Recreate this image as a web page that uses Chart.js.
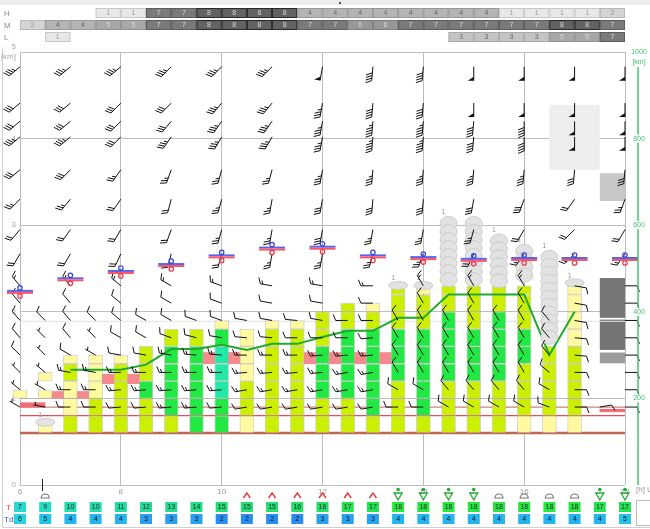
<!DOCTYPE html>
<html>
<head>
<meta charset="utf-8">
<script src="https://cdn.jsdelivr.net/npm/chart.js@4.4.1/dist/chart.umd.min.js"></script>
<style>
  body { margin: 0; background: #fff; }
  canvas { display: block; }
</style>
</head>
<body>
<canvas id="meteogram" width="650" height="529"></canvas>
<script>
// ---- data ----
const halfHours = [6, 6.5, 7, 7.5, 8, 8.5, 9, 9.5, 10, 10.5, 11, 11.5, 12, 12.5, 13, 13.5, 14, 14.5, 15, 15.5, 16, 16.5, 17, 17.5, 18];
const fullHours = [6, 7, 8, 9, 10, 11, 12, 13, 14, 15, 16, 17, 18];

// cloud cover (octas) per half hour slot starting at 6:00
const cloudH = [null, null, null, 1, 1, 7, 7, 8, 8, 8, 8, 4, 4, 4, 4, 4, 4, 4, 4, 1, 1, 1, 1, 2];
const cloudM = [2, 4, 4, 5, 5, 7, 7, 8, 8, 8, 8, 7, 7, 6, 6, 7, 7, 7, 7, 7, 7, 8, 8, 7];
const cloudL = [null, 1, null, null, null, null, null, null, null, null, null, null, null, null, null, null, null, 3, 3, 3, 3, 5, 5, 7];

// temperature / dew point per half hour
const tempT = [7, 9, 10, 10, 11, 12, 13, 14, 15, 15, 15, 16, 16, 17, 17, 18, 18, 18, 18, 18, 18, 18, 18, 17, 17];
const tempTd = [6, 5, 4, 4, 4, 3, 3, 3, 2, 2, 2, 2, 3, 3, 3, 4, 4, 4, 4, 4, 4, 4, 4, 4, 5];
const weather = ['', 'cu', '', '', '', '', '', '', '', 'ts', 'ts', 'ts', 'ts', 'ts', 'ts', 'sh', 'sh', 'sh', 'sh', 'cu', 'cu', 'cu', 'cu', 'sh', 'sh'];

// boundary layer columns: one letter per 0.1 km starting at 0.6 km
const barHours = [6, 6.5, 7, 7.5, 8, 8.5, 9, 9.5, 10, 10.5, 11, 11.5, 12, 12.5, 13, 13.5, 14, 14.5, 15, 15.5, 16, 16.5, 17];
const barCodes = [
  '....Y', 'Y...Y.Y', 'GGYYYYGGY', 'GGGGYYYYY', 'GGGGGGGGY', 'GGGGBBGGGG',
  'GGBBBBBBBBGG', 'BBBBBBBBBBGG', 'BBBBTTTTTTBBY', 'YYGGGGYYYYYY', 'GGGGGGGGGGGGY',
  'GGGGGGGGGGGGY', 'GGGGBBBBBBGGGG', 'GGGGBBBBBBBBGGG', 'GGBBBBBBBBBBGGY',
  'GGGGGGBBBBBBGGGGG', 'GGBBBBBBBBBBGGGGY', 'GGGGGGBBBBBBBBGGG', 'GGGGGGBBBBBBGGGGG',
  'GGGGGGBBBBBBBBGGG', 'YYGGGGGGBBBBGGGGG', 'YYGGGGGGGG', 'YYGGGGGGGGYYYYYYY'
];
const barBase = 0.6;

// inversion cells between the columns
const pinkHours = [6.75, 7.25, 7.75, 8.25, 9.75, 10.25, 11.75, 12.25, 12.75, 13.25];
const pinkLo = [1.0, 1.0, 1.17, 1.17, 1.4, 1.4, 1.4, 1.4, 1.4, 1.4];
const pinkHi = [1.08, 1.08, 1.28, 1.28, 1.53, 1.53, 1.53, 1.53, 1.53, 1.53];
const pinkWideHours = [6.25, 17.75];
const pinkWideLo = [0.9, 0.845];
const pinkWideHi = [0.95, 0.875];

// mixing height line
const mixHours = [7, 7.5, 8, 8.5, 9, 9.5, 10, 10.5, 11, 11.5, 12, 12.5, 13, 13.5, 14, 14.5, 15, 15.5, 16, 16.5, 17];
const mixKm = [1.33, 1.33, 1.33, 1.39, 1.57, 1.57, 1.62, 1.56, 1.63, 1.63, 1.71, 1.78, 1.78, 1.93, 1.93, 2.2, 2.2, 2.2, 2.2, 1.5, 2.0];

// horizontal reference levels
const levelKm = [0.6, 0.8, 0.9, 1.89];

// freezing level markers
const markerKm = [2.23, 2.375, 2.46, 2.54, 2.64, 2.73, 2.74, 2.64, 2.62, 2.6, 2.61, 2.61, 2.61];

// convective clouds on top of the columns
const cuHours = [6.5, 13.5, 14, 14.5, 15, 15.5, 16, 16.5, 17];
const cuBase = [0.69, 2.27, 2.27, 2.3, 2.3, 2.3, 2.3, 1.6, 2.3];
const cuTop = [0.74, 2.35, 2.35, 3.1, 3.1, 2.9, 2.78, 2.71, 2.35];

// cloud layer boxes on the right
const boxFrom = [16.5, 17.5, 17.5, 17.5, 17.5];
const boxTo = [17.5, 18, 18, 18, 18];
const boxLo = [3.64, 3.28, 1.93, 1.56, 1.405];
const boxHi = [4.39, 3.6, 2.39, 1.91, 1.53];

// upper winds: levels (km) x full hours
const upperLevels = [4.83, 4.41, 4.2, 4.02, 3.64, 3.3, 2.95, 2.67];
const upperDir = [
  [230, 230, 230, 225, 225, 225, 190, 185, 185, 180, 180, 180, 180],
  [230, 230, 225, 225, 220, 220, 190, 185, 185, 180, 180, 180, 180],
  [230, 230, 225, 220, 215, 215, 190, 185, 185, 185, 180, 180, 180],
  [230, 230, 225, 215, 210, 210, 190, 185, 185, 185, 180, 180, 180],
  [230, 225, 215, 200, 195, 195, 190, 185, 185, 185, 185, 185, 185],
  [225, 220, 215, 195, 195, 190, 190, 185, 185, 190, 200, 215, 200],
  [220, 215, 210, 200, 195, 190, 190, 190, 190, 195, 210, 225, 210],
  [210, 210, 205, 195, 195, 190, 190, 195, 200, 205, 215, 225, 215]
];
const upperSpd = [
  [35, 35, 35, 35, 35, 35, 50, 40, 40, 50, 50, 50, 50],
  [30, 30, 30, 30, 35, 35, 35, 40, 40, 50, 50, 50, 50],
  [30, 30, 30, 30, 35, 35, 35, 45, 45, 40, 40, 50, 50],
  [35, 35, 30, 35, 35, 35, 35, 45, 45, 40, 40, 50, 50],
  [30, 30, 25, 25, 25, 25, 35, 35, 35, 35, 35, 30, 30],
  [25, 25, 20, 20, 25, 25, 30, 30, 30, 30, 30, 20, 25],
  [20, 20, 20, 20, 25, 25, 30, 25, 25, 25, 20, 20, 20],
  [20, 20, 20, 20, 20, 25, 25, 25, 25, 20, 15, 15, 15]
];

// boundary layer winds: levels (km) x half hours, null = no barb
const lowLevels = [2.3, 2.1, 1.9, 1.7, 1.5, 1.3, 1.1, 0.9];
const lowDir = [
  [320, 320, 320, 315, 310, 300, 300, 290, 290, 280, 280, 280, 280, 270, 270, 330, 330, 330, 330, 330, 330, 320, 100, 90, 90],
  [320, 320, 320, 315, 310, 300, 300, 290, 290, 280, 280, 280, 280, 270, 270, 330, 330, 330, 330, 330, 330, 320, 100, 90, 90],
  [320, 315, 320, 315, 310, 300, 300, 290, 290, 280, 280, 275, 280, 270, 270, 330, 330, 330, 330, 330, 330, 320, 100, 90, 90],
  [320, 315, 320, 315, 300, 300, 290, 285, 280, 275, 275, 270, 270, 270, 265, 330, 330, 330, 330, 330, 330, 320, 95, 90, 90],
  [315, 315, 300, 300, 280, 280, 280, 275, 275, 270, 270, 270, 265, 265, 265, 330, 330, 330, 330, 330, 330, 320, 95, 90, 90],
  [315, 310, 280, 280, 270, 270, 270, 270, 270, 265, 265, 265, 265, 260, 260, 330, 330, 330, 330, 330, 330, 310, 90, 90, 90],
  [310, 300, 270, 270, 265, 265, 265, 265, 265, 260, 260, 260, 260, 260, 260, 300, 300, 320, 320, 320, 320, 300, 90, 90, 90],
  [300, 280, 270, 270, 265, 265, 265, 265, 265, 260, 260, 260, 260, 260, 260, 270, 270, 300, 300, 300, 300, 290, 90, 80, 90]
];
const lowSpd = [
  [15, null, 15, null, 15, null, 15, null, 15, null, 15, null, 15, null, 15, null, 15, null, 15, null, 15, null, 10, null, 10],
  [10, null, 10, null, 10, null, 10, null, 10, null, 10, null, 10, null, 10, null, 10, null, 10, null, 10, null, 10, null, 10],
  [10, 10, 10, 10, 10, 10, 10, 10, 10, 10, 10, 10, 10, 10, 10, 10, 10, 10, 10, 10, 10, 10, 10, null, 10],
  [10, 5, 10, 5, 10, 10, 10, 10, 10, 10, 10, 10, 10, 10, 10, 10, 10, 10, 10, 10, 10, 10, 10, null, 10],
  [10, 5, 10, 5, 10, 10, 15, 15, 15, 15, 15, 15, 15, 15, 15, 10, 10, 10, 10, 10, 10, 10, 10, null, 10],
  [5, 5, 15, 15, 15, 15, 15, 15, 15, 15, 15, 15, 15, 15, 15, 10, 10, 10, 10, 10, 10, 10, 10, null, 10],
  [5, 5, 15, 15, 15, 15, 15, 15, 15, 15, 15, 15, 15, 15, 15, 10, 10, 10, 10, 10, 10, 10, 10, null, 10],
  [5, 5, 10, 10, 10, 10, 15, 15, 10, 10, 10, 10, 10, 10, 10, 10, 10, 10, 10, 10, 10, 10, 10, 10, 10]
];

const rightTicks = [200, 400, 600, 800];
const nowHour = 6.43;

// ---- styles ----
const FONT = '"Liberation Sans", Arial, sans-serif';
const cellColor = { G: '#ccee00', B: '#22e844', Y: '#fff9a0', T: '#22e8a8' };
const octaFill = { 1: '#e8e8e8', 2: '#d4d4d4', 3: '#c4c4c4', 4: '#b4b4b4', 5: '#a8a8a8', 6: '#989898', 7: '#7a7a7a', 8: '#626262' };
const octaLine = { 1: '#c8c8c8', 2: '#b8b8b8', 3: '#aaaaaa', 4: '#999999', 5: '#909090', 6: '#808080', 7: '#5e5e5e', 8: '#2a2a2a' };
const levelStyle = [
  { color: '#c26654', width: 2.5 },
  { color: '#ee4a55', width: 1.2 },
  { color: '#c98478', width: 1.2 },
  { color: '#e2e2e2', width: 1 }
];
const boxColor = ['#ededed', '#c8c8c8', '#777777', '#747474', '#9c9c9c'];

function tColor(v) {
  const map = { 2: '#2a8cee', 3: '#27a0ee', 4: '#25b4ec', 5: '#24c4e6', 6: '#26d2dc', 7: '#2ad8d2',
    9: '#25dcbc', 10: '#23dca8', 11: '#22dca0', 12: '#22dd96', 13: '#22dd8c', 14: '#22de82',
    15: '#22df70', 16: '#22e062', 17: '#24e44e', 18: '#28e83e' };
  return map[v] || '#22dd88';
}

// ---- build bar datasets, one per cell index inside a column ----
const cellSets = [];
barHours.forEach((h, i) => {
  const code = barCodes[i];
  let j = 0, n = 0;
  while (j < code.length) {
    const c = code[j];
    if (c === '.') { j++; continue; }
    const len = (j % 2 === 0 && code[j + 1] === c) ? 2 : 1;
    const lo = +(barBase + j * 0.1).toFixed(2);
    const hi = +(barBase + (j + len) * 0.1).toFixed(2);
    if (!cellSets[n]) cellSets[n] = { data: [], colors: [] };
    cellSets[n].data.push({ x: h, y: [lo, hi] });
    cellSets[n].colors.push(cellColor[c]);
    n++;
    j += len;
  }
});

const datasets = [];
levelKm.forEach((k, i) => {
  datasets.push({
    type: 'line', order: 5,
    data: [{ x: 6, y: k }, { x: 18, y: k }],
    borderColor: levelStyle[i].color, borderWidth: levelStyle[i].width,
    pointRadius: 0
  });
});
cellSets.forEach(s => {
  datasets.push({
    type: 'bar', order: 3, grouped: false, clip: false,
    data: s.data, backgroundColor: s.colors,
    borderColor: 'rgba(175,175,175,0.55)', borderWidth: 1, borderSkipped: false,
    barThickness: 14
  });
});
datasets.push({
  type: 'bar', order: 3, grouped: false,
  data: pinkHours.map((h, i) => ({ x: h, y: [pinkLo[i], pinkHi[i]] })),
  backgroundColor: '#f58a8e', borderWidth: 0, barThickness: 12
});
datasets.push({
  type: 'bar', order: 3, grouped: false,
  data: pinkWideHours.map((h, i) => ({ x: h, y: [pinkWideLo[i], pinkWideHi[i]] })),
  backgroundColor: '#f26e76', borderWidth: 0, barThickness: 25
});
datasets.push({
  type: 'line', order: 0,
  data: mixHours.map((h, i) => ({ x: h, y: mixKm[i] })),
  borderColor: '#1eaa2a', borderWidth: 2, pointRadius: 0, tension: 0
});

// ---- drawing helpers ----
function line(ctx, x0, y0, x1, y1) {
  ctx.beginPath(); ctx.moveTo(x0, y0); ctx.lineTo(x1, y1); ctx.stroke();
}

function drawBarb(ctx, x, y, dir, kt, len) {
  const a = dir * Math.PI / 180;
  const dx = Math.sin(a), dy = -Math.cos(a);
  const px = -dy, py = dx;
  const at = d => [x + dx * d, y + dy * d];
  ctx.strokeStyle = '#111'; ctx.fillStyle = '#111'; ctx.lineWidth = 1;
  const end = at(len);
  line(ctx, x, y, end[0], end[1]);
  let s = Math.round(kt / 5) * 5;
  let pos = len;
  while (s >= 50) {
    const p0 = at(pos), p1 = at(pos - 4);
    ctx.beginPath();
    ctx.moveTo(p0[0], p0[1]);
    ctx.lineTo(p0[0] + px * 6, p0[1] + py * 6);
    ctx.lineTo(p1[0], p1[1]);
    ctx.closePath(); ctx.fill();
    pos -= 5; s -= 50;
  }
  let first = true;
  while (s >= 10) {
    const p = at(pos);
    line(ctx, p[0], p[1], p[0] + px * 6 + dx * 2.5, p[1] + py * 6 + dy * 2.5);
    pos -= 2.6; s -= 10; first = false;
  }
  if (s >= 5) {
    if (first) pos -= 2.6;
    const p = at(pos);
    line(ctx, p[0], p[1], p[0] + px * 3.5 + dx * 1.5, p[1] + py * 3.5 + dy * 1.5);
  }
}

const meteoPlugin = {
  id: 'meteo',
  beforeDatasetsDraw(chart) {
    const { ctx, scales: { x, y } } = chart;
    ctx.save();
    boxFrom.forEach((f, i) => {
      const x0 = x.getPixelForValue(f), x1 = x.getPixelForValue(boxTo[i]);
      const y0 = y.getPixelForValue(boxHi[i]), y1 = y.getPixelForValue(boxLo[i]);
      ctx.fillStyle = boxColor[i];
      ctx.fillRect(x0, y0, x1 - x0, y1 - y0);
    });
    ctx.restore();
  },
  afterDatasetsDraw(chart) {
    const { ctx, scales: { x, y } } = chart;
    ctx.save();

    // convective clouds
    cuHours.forEach((h, i) => {
      const cx = x.getPixelForValue(h);
      const yb = y.getPixelForValue(cuBase[i]);
      const yt = y.getPixelForValue(cuTop[i]);
      ctx.fillStyle = '#e2e2e2'; ctx.strokeStyle = '#cdcdcd'; ctx.lineWidth = 1;
      let labelY;
      if (yb - yt < 12) {
        ctx.beginPath(); ctx.ellipse(cx, yb - 3, 9.5, 4, 0, 0, Math.PI * 2); ctx.fill(); ctx.stroke();
        labelY = yb - 10;
      } else {
        const centers = [];
        for (let cy = yt + 7; cy <= yb - 4; cy += 8) centers.push(cy);
        centers.forEach(cy => {
          ctx.beginPath(); ctx.ellipse(cx, cy, 8.5, 7, 0, 0, Math.PI * 2); ctx.fill(); ctx.stroke();
        });
        labelY = yt - 4;
      }
      ctx.fillStyle = '#999'; ctx.font = '7px ' + FONT;
      ctx.textAlign = 'center'; ctx.textBaseline = 'middle';
      ctx.fillText('1', cx - 5, labelY);
    });

    // winds
    upperLevels.forEach((lv, r) => {
      fullHours.forEach((h, c) => {
        drawBarb(ctx, x.getPixelForValue(h), y.getPixelForValue(lv), upperDir[r][c], upperSpd[r][c], 14);
      });
    });
    lowLevels.forEach((lv, r) => {
      halfHours.forEach((h, c) => {
        if (lowSpd[r][c] == null) return;
        drawBarb(ctx, x.getPixelForValue(h), y.getPixelForValue(lv), lowDir[r][c], lowSpd[r][c], 12);
      });
    });

    // freezing level markers
    fullHours.forEach((h, i) => {
      const mx = x.getPixelForValue(h), my = y.getPixelForValue(markerKm[i]);
      ctx.lineWidth = 2;
      ctx.strokeStyle = '#5566ee'; line(ctx, mx - 13, my - 1, mx + 13, my - 1);
      ctx.strokeStyle = '#ff5563'; line(ctx, mx - 13, my + 1, mx + 13, my + 1);
      ctx.lineWidth = 1.2;
      ctx.strokeStyle = '#3344dd';
      ctx.beginPath(); ctx.arc(mx, my - 4, 2.2, 0, Math.PI * 2); ctx.stroke();
      ctx.strokeStyle = '#ee3344';
      ctx.beginPath(); ctx.arc(mx, my + 4, 2.2, 0, Math.PI * 2); ctx.stroke();
    });
    ctx.restore();
  },
  afterDraw(chart) {
    const { ctx, scales: { x, y2 }, chartArea } = chart;
    ctx.save();

    // frame
    ctx.fillStyle = '#ececec'; ctx.fillRect(0, 0, 650, 5);
    ctx.fillStyle = '#555'; ctx.fillRect(339, 2, 2, 2);
    ctx.strokeStyle = '#cfcfcf'; ctx.lineWidth = 1;
    line(ctx, 2.5, 47, 2.5, 527.5);
    line(ctx, 2.5, 527.5, 650, 527.5);

    // cloud cover rows
    ctx.textAlign = 'center'; ctx.textBaseline = 'middle';
    [[cloudH, 8, 'H'], [cloudM, 20, 'M'], [cloudL, 32, 'L']].forEach(([vals, top, name]) => {
      ctx.fillStyle = '#888'; ctx.font = '8px ' + FONT; ctx.textAlign = 'left';
      ctx.fillText(name, 4, top + 5.5);
      ctx.textAlign = 'center'; ctx.font = '7px ' + FONT;
      vals.forEach((v, i) => {
        if (v == null) return;
        const x0 = x.getPixelForValue(6 + i * 0.5), x1 = x.getPixelForValue(6.5 + i * 0.5);
        ctx.fillStyle = octaFill[v];
        ctx.fillRect(x0, top, x1 - x0, 10);
        ctx.strokeStyle = octaLine[v];
        ctx.strokeRect(x0 + 0.5, top + 0.5, x1 - x0 - 1, 9);
        ctx.fillStyle = v <= 2 ? '#999' : (v <= 4 ? '#666' : '#d8d8d8');
        ctx.fillText(String(v), (x0 + x1) / 2, top + 5.5);
      });
    });

    // right axis (visibility km)
    const rx = chartArea.right + 13;
    ctx.strokeStyle = '#3fc66c'; ctx.lineWidth = 1.5;
    line(ctx, rx, y2.getPixelForValue(1000) + 15, rx, y2.getPixelForValue(0));
    ctx.font = '7px ' + FONT; ctx.fillStyle = '#3fc66c';
    ctx.fillText('1000', rx + 1, y2.getPixelForValue(1000));
    ctx.fillText('[km]', rx + 1, y2.getPixelForValue(1000) + 10);
    rightTicks.forEach(t => {
      const ty = y2.getPixelForValue(t);
      ctx.fillStyle = '#fff'; ctx.fillRect(rx - 7, ty - 4, 15, 8);
      ctx.fillStyle = '#3fc66c'; ctx.fillText(String(t), rx + 1, ty);
    });

    // x axis extras
    ctx.fillStyle = '#999'; ctx.font = '8px ' + FONT; ctx.textAlign = 'left';
    ctx.fillText('[h] UTC', chartArea.right + 11, chartArea.bottom + 5);
    ctx.strokeStyle = '#222'; ctx.lineWidth = 1;
    const nx = Math.round(x.getPixelForValue(nowHour)) + 0.5;
    line(ctx, nx, chartArea.bottom - 6, nx, chartArea.bottom + 6);

    // weather symbols
    halfHours.forEach((h, i) => {
      const cx = x.getPixelForValue(h);
      const w = weather[i];
      if (w === 'cu') {
        ctx.strokeStyle = '#777'; ctx.lineWidth = 1.2;
        ctx.beginPath(); ctx.arc(cx, 498, 4, Math.PI, 0); ctx.closePath(); ctx.stroke();
      } else if (w === 'ts') {
        ctx.strokeStyle = '#e03a3a'; ctx.lineWidth = 1.4;
        ctx.beginPath(); ctx.moveTo(cx - 3.5, 498); ctx.lineTo(cx, 493); ctx.lineTo(cx + 3.5, 498); ctx.stroke();
      } else if (w === 'sh') {
        ctx.fillStyle = '#22aa33'; ctx.strokeStyle = '#22aa33'; ctx.lineWidth = 1.3;
        ctx.beginPath(); ctx.arc(cx, 489.5, 1.8, 0, Math.PI * 2); ctx.fill();
        ctx.beginPath(); ctx.moveTo(cx - 4, 493); ctx.lineTo(cx + 4, 493); ctx.lineTo(cx, 500); ctx.closePath(); ctx.stroke();
      }
    });

    // T / Td rows
    ctx.font = '8px ' + FONT; ctx.textAlign = 'left';
    ctx.fillStyle = '#e04444'; ctx.fillText('T', 6, 507.5);
    ctx.fillStyle = '#4456cc'; ctx.fillText('Td', 4, 519.5);
    ctx.textAlign = 'center'; ctx.font = '7px ' + FONT;
    halfHours.forEach((h, i) => {
      const cx = x.getPixelForValue(h);
      ctx.fillStyle = tColor(tempT[i]); ctx.fillRect(cx - 6, 502, 12, 10);
      ctx.fillStyle = '#224'; ctx.fillText(String(tempT[i]), cx, 507.5);
      ctx.fillStyle = tColor(tempTd[i]); ctx.fillRect(cx - 6, 514, 12, 10);
      ctx.fillStyle = '#113'; ctx.fillText(String(tempTd[i]), cx, 519.5);
    });
    ctx.strokeStyle = '#bbb'; ctx.lineWidth = 1;
    ctx.strokeRect(636.5, 500.5, 14, 25);
    ctx.restore();
  }
};

new Chart(document.getElementById('meteogram'), {
  type: 'bar',
  data: { datasets },
  options: {
    responsive: false,
    animation: false,
    layout: { padding: { top: 52, right: 25, bottom: 32, left: 0 } },
    plugins: { legend: { display: false }, tooltip: { enabled: false } },
    scales: {
      x: {
        type: 'linear', min: 6, max: 18, offset: false,
        grid: { color: '#bdbdbd', offset: false, drawTicks: false },
        border: { display: false },
        ticks: { stepSize: 2, padding: 2, color: '#999', font: { size: 8, family: FONT } },
        afterFit(s) { s.height = 12; }
      },
      y: {
        type: 'linear', min: 0, max: 5,
        grid: { color: '#bdbdbd', drawTicks: false },
        border: { display: false },
        ticks: {
          stepSize: 1, padding: 4, color: '#aaa', font: { size: 8, family: FONT },
          callback: v => (v === 5 ? ['5', '[km]'] : String(v))
        },
        afterFit(s) { s.width = 20; }
      },
      y2: { type: 'linear', display: false, position: 'right', min: 0, max: 1000 }
    }
  },
  plugins: [meteoPlugin]
});
</script>
</body>
</html>
